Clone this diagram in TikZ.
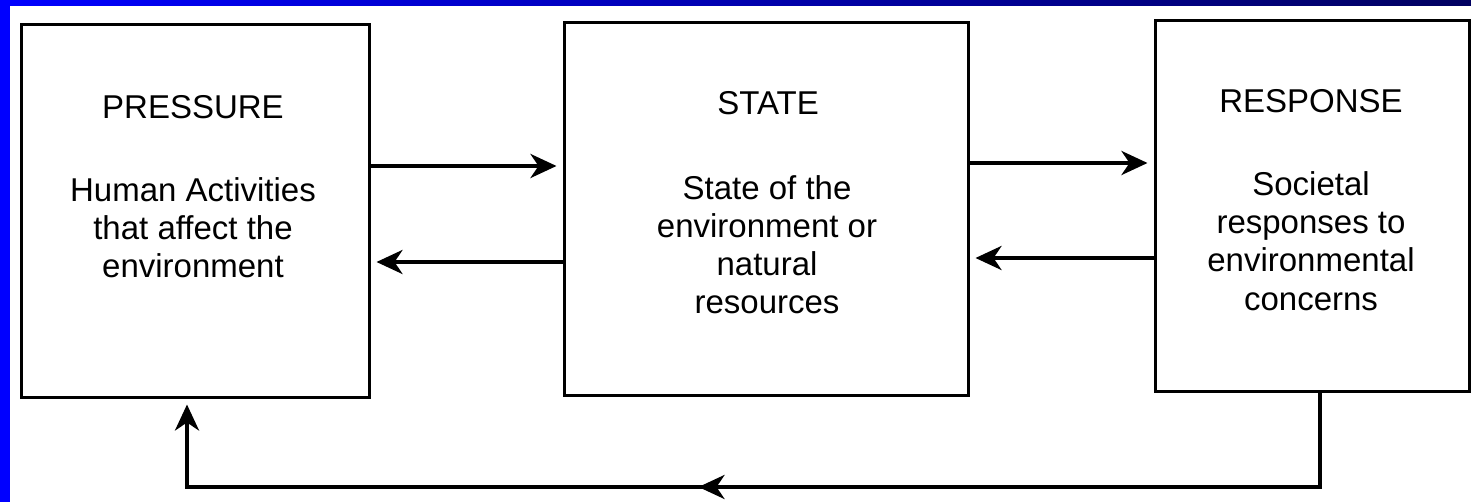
\documentclass[tikz,border=0pt]{standalone}
\usepackage{fontspec}
\setmainfont{Liberation Sans}
\usetikzlibrary{arrows.meta,decorations.markings}
\definecolor{barblue}{RGB}{0,0,255}
\definecolor{barnavy}{RGB}{0,0,96}
\begin{document}
\begin{tikzpicture}[x=1pt,y=-1pt,
  bigtip/.tip={Stealth[length=26pt,width=24pt,inset=8pt]},
  box/.style={draw=black, line width=3pt, inner sep=0pt},
  txt/.style={font=\fontsize{33}{38}\selectfont, align=center, inner sep=0pt, anchor=base},
  arr/.style={line width=4pt, -bigtip, shorten >=6pt}]
\useasboundingbox (0,0) rectangle (1471,502);
\fill[white] (0,0) rectangle (1471,502);
% frame
\shade[left color=barblue, right color=barnavy] (0,0) rectangle (1471,6);
\fill[barblue] (0,0) rectangle (10,502);
% boxes
\node[box, minimum width=348pt, minimum height=372pt] (p) at (195,211) {};
\node[box, minimum width=404pt, minimum height=372pt] (s) at (766,209) {};
\node[box, minimum width=314pt, minimum height=370pt] (r) at (1312,206) {};
% texts (base anchor = baseline of last line)
\node[txt] (pt) at (193,119) {PRESSURE};
\node[txt] (pb) at (193,278) {Human Activities\\that affect the\\environment};
\node[txt] (st) at (768,115) {STATE};
\node[txt] (sb) at (767,313) {State of the\\environment or\\natural\\resources};
\node[txt] (rt) at (1311,113) {RESPONSE};
\node[txt] (rb) at (1311,310) {Societal\\responses to\\environmental\\concerns};
% arrow levels
\coordinate (y1) at (0,166);
\coordinate (y2) at (0,262);
\coordinate (y3) at (0,163);
\coordinate (y4) at (0,258);
\draw[arr] (p.east |- y1) -- (s.west |- y1);
\draw[arr] (s.west |- y2) -- (p.east |- y2);
\draw[arr] (s.east |- y3) -- (r.west |- y3);
\draw[arr] (r.west |- y4) -- (s.east |- y4);
% feedback loop
\coordinate (fbR) at (1320,487);
\coordinate (fbL) at (187,487);
\draw[arr, postaction={decorate},
  decoration={markings, mark=at position 716pt with {\arrow{bigtip}}}]
  (r.south -| fbR) -- (fbR) -- (fbL) -- (p.south -| fbL);
\end{tikzpicture}
\end{document}
